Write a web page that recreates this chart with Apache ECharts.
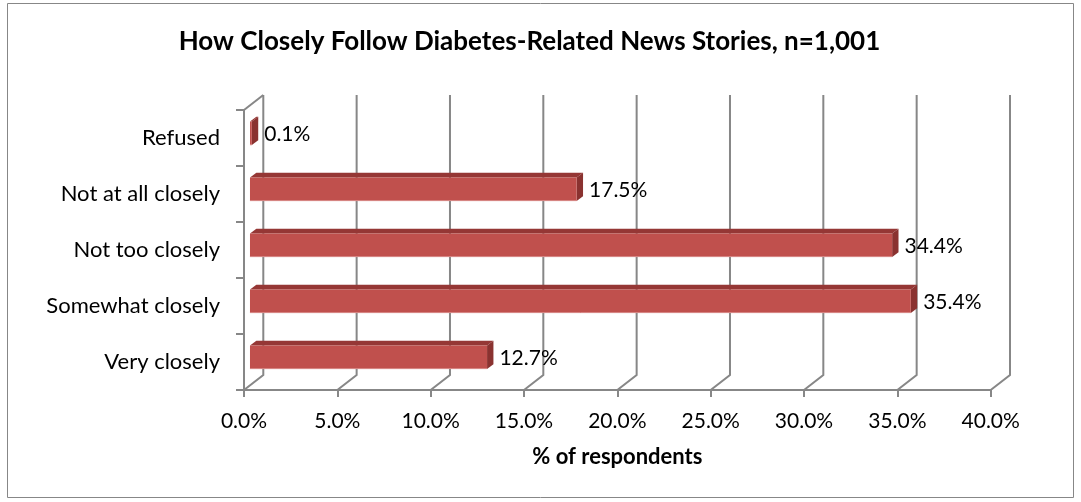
<!DOCTYPE html>
<html>
<head>
<meta charset="utf-8">
<script src="https://cdn.jsdelivr.net/npm/echarts@6/dist/echarts.min.js"></script>
<style>
  html, body { margin: 0; padding: 0; background: #fff; }
  #chart { width: 1081px; height: 502px; }
</style>
</head>
<body>
<div id="chart"></div>
<script>
// Survey answers, bottom to top as drawn on the category axis
const categories = ['Very closely', 'Somewhat closely', 'Not too closely', 'Not at all closely', 'Refused'];
const shares = [12.7, 35.4, 34.4, 17.5, 0.1];
// Value axis ticks (percent)
const tickValues = [0, 5, 10, 15, 20, 25, 30, 35, 40];

const FONT = 'Lato, "Open Sans", sans-serif';
const GRID_GRAY = '#878787';
const BAR_FRONT = '#C0504D';
const BAR_TOP = '#953735';
const BAR_SIDE = '#8A3230';

// Oblique depth vector of the 3D box (front plane -> back wall)
const DX = 19.3, DY = -15;
// Depth span occupied by each bar (0 = front plane, 1 = back wall)
const D_FRONT = 0.31, D_BACK = 0.64;
const BAR_RATIO = 0.42;

const chart = echarts.init(document.getElementById('chart'), null, { renderer: 'canvas' });

// Back wall, floor and side wall edges of the 3D frame
function renderFrame(params, api) {
  const cs = params.coordSys;
  const v = api.value(0);
  const x = api.coord([v, 0])[0];
  const yb = cs.y + cs.height;
  const yt = cs.y;
  const style = { stroke: GRID_GRAY, lineWidth: 2, fill: null };
  const children = [
    { type: 'polyline', shape: { points: [[x, yb], [x + DX, yb + DY], [x + DX, yt + DY]] }, style: style }
  ];
  if (v === tickValues[0]) {
    children.push({ type: 'line', shape: { x1: x, y1: yt, x2: x + DX, y2: yt + DY }, style: style });
  }
  return { type: 'group', children: children };
}

// Oblique 3D bars: front face, top face, side face and value label
function renderBar(params, api) {
  const val = api.value(0);
  const cat = api.value(1);
  const p0 = api.coord([0, cat]);
  const p1 = api.coord([val, cat]);
  const bh = api.size([0, 1])[1] * BAR_RATIO;
  const x = p0[0] + DX * D_FRONT;
  const y = p0[1] + DY * D_FRONT - bh / 2;
  const w = p1[0] - p0[0];
  const ddx = DX * (D_BACK - D_FRONT);
  const ddy = DY * (D_BACK - D_FRONT);
  return {
    type: 'group',
    children: [
      { type: 'polygon', shape: { points: [[x, y], [x + w, y], [x + w + ddx, y + ddy], [x + ddx, y + ddy]] },
        style: { fill: BAR_TOP } },
      { type: 'polygon', shape: { points: [[x + w, y], [x + w + ddx, y + ddy], [x + w + ddx, y + ddy + bh], [x + w, y + bh]] },
        style: { fill: BAR_SIDE } },
      { type: 'rect', shape: { x: x, y: y, width: w, height: bh }, style: { fill: BAR_FRONT } },
      { type: 'line', shape: { x1: x, y1: y + bh - 0.5, x2: x + w, y2: y + bh - 0.5 }, style: { stroke: '#D98C8A', lineWidth: 1 } },
      { type: 'text', x: x + w + ddx + 6, y: y + bh / 2 + 1,
        style: { text: val.toFixed(1) + '%', fill: '#000', font: '21px ' + FONT, verticalAlign: 'middle', textAlign: 'left' } }
    ]
  };
}

chart.setOption({
  animation: false,
  backgroundColor: '#fff',
  graphic: [
    { type: 'rect', shape: { x: 7.5, y: 3.5, width: 1066, height: 494 }, style: { fill: null, stroke: '#878787', lineWidth: 1 }, z: 0 },
    { type: 'text', x: 529.5, y: 42, style: { text: 'How Closely Follow Diabetes-Related News Stories, n=1,001',
        font: 'bold 26px ' + FONT, fill: '#000', textAlign: 'center', verticalAlign: 'middle' } }
  ],
  grid: { left: 244, right: 90.3, top: 110, bottom: 112, containLabel: false },
  xAxis: {
    type: 'value', min: tickValues[0], max: tickValues[tickValues.length - 1], interval: 5,
    name: '% of respondents', nameLocation: 'middle', nameGap: 56,
    nameTextStyle: { fontFamily: FONT, fontWeight: 'bold', fontSize: 22, color: '#000' },
    axisLine: { show: true, lineStyle: { color: GRID_GRAY, width: 2 } },
    axisTick: { show: true, length: 7, lineStyle: { color: GRID_GRAY, width: 2 } },
    axisLabel: { margin: 21, fontFamily: FONT, fontSize: 21, color: '#000', formatter: v => v.toFixed(1) + '%' },
    splitLine: { show: false }
  },
  yAxis: {
    type: 'category', data: categories,
    axisLine: { show: true, lineStyle: { color: GRID_GRAY, width: 2 } },
    axisTick: { show: true, length: 8, lineStyle: { color: GRID_GRAY, width: 2 } },
    axisLabel: { margin: 24, fontFamily: FONT, fontSize: 22, color: '#000' },
    splitLine: { show: false }
  },
  series: [
    { type: 'custom', renderItem: renderFrame, data: tickValues.map(v => [v, 0]), z: 1, silent: true },
    { type: 'custom', renderItem: renderBar, data: shares.map((v, i) => [v, i]), z: 3 }
  ]
});
</script>
</body>
</html>
